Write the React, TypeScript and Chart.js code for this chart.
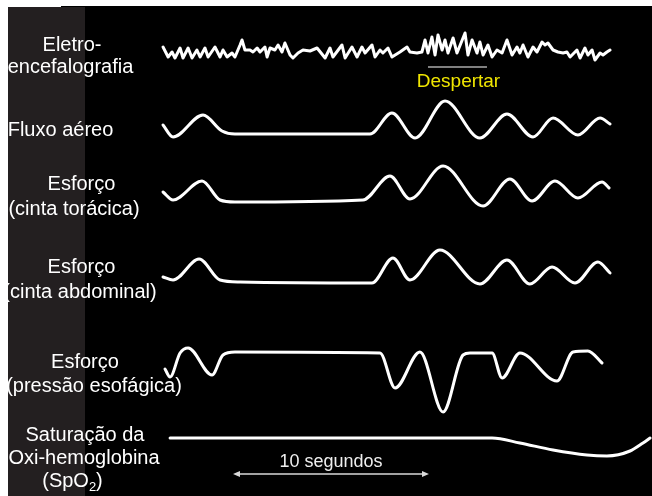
import React, { useEffect, useRef } from 'react';
import { Chart, registerables } from 'chart.js';

Chart.register(...registerables);

// ---- layout constants (page px) ----
const CANVAS_LEFT = 8;
const CANVAS_TOP = 6;
const CANVAS_W = 644;
const CANVAS_H = 490;

// Time axis in seconds (0 = start of traces), 10 s ≈ 196 px
const TIME_MIN = -7.91;
const TIME_MAX = 24.95;

// Channel baselines (vertical units, 0 = bottom of picture)
const BASE_EEG = 447;
const BASE_FLOW = 362;
const BASE_THOR = 295;
const BASE_ABD = 214;
const BASE_ESO = 143;
const BASE_SPO2 = 58;

// ---- data ----
// Eletroencefalografia
const eegTime = [
  0.0, 0.26, 0.46, 0.61, 0.87, 1.02, 1.28, 1.48, 1.73, 1.89, 2.14, 2.3, 2.65, 2.91, 3.06, 3.27, 3.52, 3.67,
  3.93, 4.03, 4.18, 4.44, 4.59, 4.8, 4.95, 5.2, 5.31, 5.46, 5.71, 5.87, 6.07, 6.22, 6.48, 6.63, 6.89, 7.14,
  7.5, 7.86, 8.27, 8.52, 8.67, 9.13, 9.29, 9.64, 9.9, 10.15, 10.31, 10.66, 10.82, 11.07, 11.22, 11.48, 11.68,
  12.09, 12.45, 12.6, 12.96, 13.21, 13.37, 13.52, 13.72, 13.88, 14.03, 14.24, 14.39, 14.54, 14.8, 15.0, 15.41,
  15.56, 15.77, 16.02, 16.17, 16.33, 16.58, 16.79, 17.04, 17.3, 17.55, 17.81, 18.06, 18.21, 18.37, 18.62,
  18.88, 19.08, 19.34, 19.49, 19.64, 19.9, 20.15, 20.41, 20.61, 20.77, 21.12, 21.28, 21.53, 21.68, 21.89,
  22.04, 22.3, 22.45, 22.65, 22.81,
];
const eegValue = [
  2, -8, -3, -9, 1, -9, 1, -9, -1, -8, 1, -8, 2, -8, -1, -8, -4, -8,
  4, 9, -1, -1, -3, 1, -3, 2, -8, 1, -1, 4, -3, 6, -6, -9, -4, -1,
  -2, 1, -9, 1, -8, 4, -9, 2, -8, 2, -4, 4, -8, -1, -4, 1, -8,
  -3, 2, -3, -4, -3, 9, -4, 12, -6, 14, -1, 9, -4, 11, -4, 16,
  -6, 9, -4, 7, -6, 4, -8, -1, -4, 9, -6, 2, -4, 4, -8,
  2, -3, 7, 4, 6, -1, -3, -4, -3, -8, -1, -9, 1, -6, -1,
  -11, -4, -6, -3, -1,
];

// Fluxo aéreo
const flowTime = [0, 0.51, 2.04, 3.01, 3.67, 10.56, 11.68, 12.86, 14.39, 16.17, 17.55, 18.88, 19.9, 21.17, 22.3, 22.81];
const flowValue = [9, -3, 19, 3, 0, 0, 21, -4, 33, -4, 20, -3, 16, -1, 16, 10];

// Esforço (cinta torácica)
const thorTime = [0, 0.51, 1.99, 2.91, 3.67, 10.2, 11.58, 12.6, 14.29, 16.33, 17.7, 18.83, 20.0, 21.17, 22.4, 22.76];
const thorValue = [9, 1, 20, 1, -1, 1, 25, 2, 35, -5, 22, 0, 20, 3, 19, 13];

// Esforço (cinta abdominal)
const abdTime = [0, 0.51, 1.84, 2.91, 3.93, 10.66, 11.73, 12.6, 14.13, 16.17, 17.55, 18.72, 19.85, 21.02, 22.19, 22.81];
const abdValue = [5, 2, 23, 2, 0, -1, 24, 2, 32, -2, 22, -2, 15, -1, 20, 9];

// Esforço (pressão esofágica)
const esoTime = [0.1, 0.36, 0.87, 1.28, 2.5, 3.06, 3.67, 11.07, 11.84, 13.11, 14.29, 15.31, 15.66, 16.79, 17.3, 18.21, 20.1, 20.92, 21.68, 22.4];
const esoValue = [-16, -24, 0, 5, -22, -2, 1, 0, -35, 1, -59, -2, 0, 0, -25, 0, -28, 1, 2, -10];

// Saturação da oxi-hemoglobina (SpO2)
const spo2Time = [0.36, 16.79, 18.21, 19.9, 21.63, 22.65, 23.83, 24.49, 24.85];
const spo2Value = [0, 0, -5, -12, -17, -18, -13, -5, 0];

// Despertar (arousal) marker, seconds
const arousalTime = [13.52, 16.53];
const arousalOffset = -18;
const arousalLabel = 'Despertar';

// 10-second scale bar
const scaleBarStart = 3.57;
const scaleBarSeconds = 10;
const scaleBarLabel = '10 segundos';

// Channel labels (page px centres)
const labelLines: { text: string; sub?: string; tail?: string; cx: number; cy: number }[] = [
  { text: 'Eletro-', cx: 72, cy: 45 },
  { text: 'encefalografia', cx: 70.5, cy: 67 },
  { text: 'Fluxo aéreo', cx: 60.5, cy: 130.5 },
  { text: 'Esforço', cx: 81.5, cy: 184 },
  { text: '(cinta torácica)', cx: 74, cy: 209 },
  { text: 'Esforço', cx: 81.5, cy: 267 },
  { text: '(cinta abdominal)', cx: 80, cy: 292 },
  { text: 'Esforço', cx: 85, cy: 362 },
  { text: '(pressão esofágica)', cx: 94, cy: 386 },
  { text: 'Saturação da', cx: 85, cy: 435 },
  { text: 'Oxi-hemoglobina', cx: 84, cy: 458 },
  { text: '(SpO', sub: '2', tail: ')', cx: 72.5, cy: 481 },
];

const FONT = '"Liberation Sans", Arial, sans-serif';

function series(t: number[], v: number[], base: number) {
  return t.map((x, i) => ({ x, y: base + v[i] }));
}

const decorPlugin = {
  id: 'decor',
  beforeDraw(chart: any) {
    const { ctx, width, height } = chart;
    ctx.save();
    ctx.fillStyle = '#000000';
    ctx.fillRect(0, 0, width, height);
    ctx.fillStyle = '#231f20';
    ctx.fillRect(0, 1, 85 - CANVAS_LEFT, height);
    ctx.fillStyle = '#ffffff';
    ctx.fillRect(0, 0, 61 - CANVAS_LEFT, 1);
    ctx.restore();
  },
  afterDatasetsDraw(chart: any) {
    const { ctx } = chart;
    const xs = chart.scales.x;
    const ys = chart.scales.y;
    ctx.save();
    ctx.textBaseline = 'middle';
    ctx.fillStyle = '#ffffff';
    // channel labels
    for (const l of labelLines) {
      const cx = l.cx - CANVAS_LEFT;
      const cy = l.cy - CANVAS_TOP;
      ctx.font = `20px ${FONT}`;
      const w1 = ctx.measureText(l.text).width;
      let w2 = 0;
      let w3 = 0;
      if (l.sub) {
        ctx.font = `13px ${FONT}`;
        w2 = ctx.measureText(l.sub).width;
        ctx.font = `20px ${FONT}`;
        w3 = ctx.measureText(l.tail || '').width;
      }
      const total = w1 + w2 + w3;
      let x = cx - total / 2;
      ctx.textAlign = 'left';
      ctx.font = `20px ${FONT}`;
      ctx.fillText(l.text, x, cy);
      x += w1;
      if (l.sub) {
        ctx.font = `13px ${FONT}`;
        ctx.fillText(l.sub, x, cy + 6);
        x += w2;
        ctx.font = `20px ${FONT}`;
        ctx.fillText(l.tail || '', x, cy);
      }
    }
    // Despertar label
    ctx.textAlign = 'center';
    ctx.font = `19px ${FONT}`;
    ctx.fillStyle = '#f0e600';
    const ax = xs.getPixelForValue((arousalTime[0] + arousalTime[1]) / 2) + 1;
    ctx.fillText(arousalLabel, ax, ys.getPixelForValue(BASE_EEG - 33));

    // scale bar
    const x0 = xs.getPixelForValue(scaleBarStart);
    const x1 = xs.getPixelForValue(scaleBarStart + scaleBarSeconds);
    const yb = ys.getPixelForValue(22);
    ctx.strokeStyle = '#d9d9d9';
    ctx.fillStyle = '#d9d9d9';
    ctx.lineWidth = 1.5;
    ctx.beginPath();
    ctx.moveTo(x0 + 3, yb);
    ctx.lineTo(x1 - 3, yb);
    ctx.stroke();
    ctx.beginPath();
    ctx.moveTo(x0, yb);
    ctx.lineTo(x0 + 7, yb - 3);
    ctx.lineTo(x0 + 7, yb + 3);
    ctx.closePath();
    ctx.fill();
    ctx.beginPath();
    ctx.moveTo(x1, yb);
    ctx.lineTo(x1 - 7, yb - 3);
    ctx.lineTo(x1 - 7, yb + 3);
    ctx.closePath();
    ctx.fill();
    ctx.font = `18px ${FONT}`;
    ctx.fillStyle = '#eeeeee';
    ctx.fillText(scaleBarLabel, (x0 + x1) / 2, ys.getPixelForValue(34));
    ctx.restore();
  },
};

export default function App() {
  const ref = useRef<HTMLCanvasElement | null>(null);
  useEffect(() => {
    if (!ref.current) return;
    const trace = (data: any[], smooth: boolean, width = 3) => ({
      data,
      borderColor: '#ffffff',
      borderWidth: width,
      pointRadius: 0,
      fill: false,
      borderJoinStyle: 'round',
      borderCapStyle: 'round',
      tension: smooth ? 0.4 : 0,
      cubicInterpolationMode: smooth ? 'monotone' : 'default',
    });
    const chart = new Chart(ref.current, {
      type: 'line',
      data: {
        datasets: [
          trace(series(eegTime, eegValue, BASE_EEG), false, 3) as any,
          {
            data: arousalTime.map((x) => ({ x, y: BASE_EEG + arousalOffset })),
            borderColor: '#808080',
            borderWidth: 2,
            pointRadius: 0,
            tension: 0,
          },
          trace(series(flowTime, flowValue, BASE_FLOW), true) as any,
          trace(series(thorTime, thorValue, BASE_THOR), true) as any,
          trace(series(abdTime, abdValue, BASE_ABD), true) as any,
          trace(series(esoTime, esoValue, BASE_ESO), true) as any,
          trace(series(spo2Time, spo2Value, BASE_SPO2), true) as any,
        ],
      },
      options: {
        responsive: false,
        animation: false,
        devicePixelRatio: 1,
        parsing: false,
        normalized: true,
        layout: { padding: 0 },
        plugins: { legend: { display: false }, tooltip: { enabled: false } },
        events: [],
        scales: {
          x: { type: 'linear', display: false, min: TIME_MIN, max: TIME_MAX },
          y: { type: 'linear', display: false, min: 0, max: CANVAS_H },
        },
      },
      plugins: [decorPlugin],
    });
    return () => chart.destroy();
  }, []);
  return (
    <canvas
      ref={ref}
      width={CANVAS_W}
      height={CANVAS_H}
      style={{ position: 'absolute', left: CANVAS_LEFT, top: CANVAS_TOP, width: CANVAS_W, height: CANVAS_H, display: 'block' }}
    />
  );
}
